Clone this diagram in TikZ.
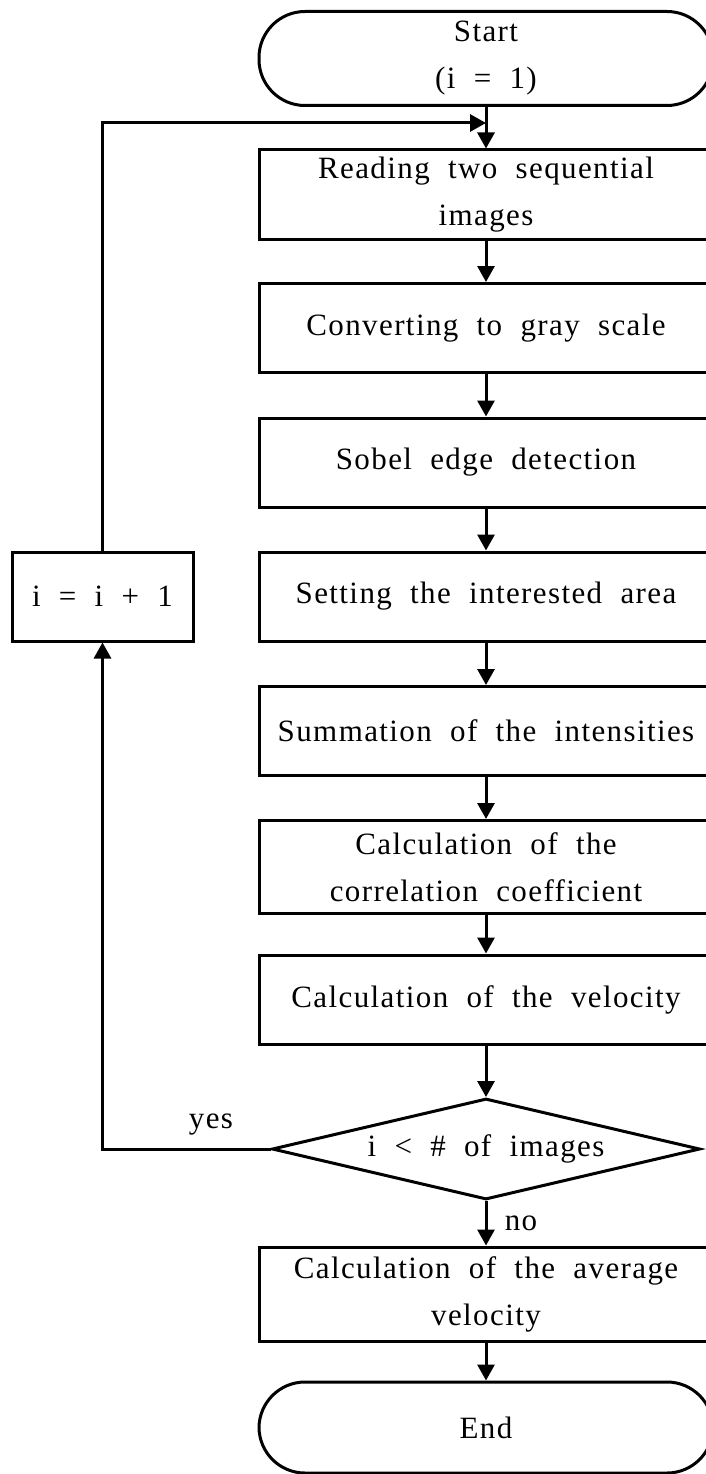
\documentclass[tikz,border=0pt]{standalone}
\usepackage{fontspec}
\setmainfont{Liberation Serif}[WordSpace={2,0,0}, LetterSpace=4.5]
\usetikzlibrary{arrows.meta,shapes.geometric}
\begin{document}
\begin{tikzpicture}[x=1pt,y=-1pt,
 every node/.style={font=\fontsize{31}{47}\selectfont},
 box/.style={draw, line width=3pt, minimum width=454pt, minimum height=89pt, inner sep=0pt, align=center},
 term/.style={box, rounded corners=46pt, minimum height=94pt},
 dec/.style={draw, line width=3pt, diamond, aspect=4.2, minimum width=428pt, minimum height=101pt, inner sep=0pt},
 arr/.style={line width=3pt, -{Triangle[width=17pt,length=16pt]}},
 lbl/.style={inner sep=0pt}]
\useasboundingbox (0,0) rectangle (706,1474);
\node[term] (start) at (486,58.5) {Start\\(i = 1)};
\node[box] (read) at (486,194.5) {Reading two sequential\\images};
\node[box] (conv) at (486,328) {Converting to gray scale};
\node[box] (sobel) at (486,462.5) {Sobel edge detection};
\node[box] (set) at (486,596.5) {Setting the interested area};
\node[box] (sum) at (486,731) {Summation of the intensities};
\node[box, minimum height=93pt] (corr) at (486,867) {Calculation of the\\correlation coefficient};
\node[box] (vel) at (486,999.5) {Calculation of the velocity};
\node[dec] (dec) at (486,1149) {i < \# of images};
\node[box, minimum height=94pt] (avg) at (486,1294) {Calculation of the average\\velocity};
\node[term, minimum height=91pt] (end) at (486,1427.5) {End};
\node[box, minimum width=181pt] (inc) at (102.5,596.5) {i = i + 1};
\node[lbl] (yes) at (211,1125) {yes};
\node[lbl] (no) at (521,1223) {no};
\coordinate (j) at (486,123);
\coordinate (c1) at (102.5,1149);
\draw[arr] (start.south) -- (read.north);
\draw[arr] (read) -- (conv);
\draw[arr] (conv) -- (sobel);
\draw[arr] (sobel) -- (set);
\draw[arr] (set) -- (sum);
\draw[arr] (sum) -- (corr);
\draw[arr] (corr) -- (vel);
\draw[arr] (vel.south) -- (dec.north);
\draw[arr] (dec.south) -- (avg.north);
\draw[arr] (avg) -- (end);
\draw[arr] (dec.west) -- (c1) -- (inc.south);
\draw[arr] (inc.north) |- (j);
\end{tikzpicture}
\end{document}
